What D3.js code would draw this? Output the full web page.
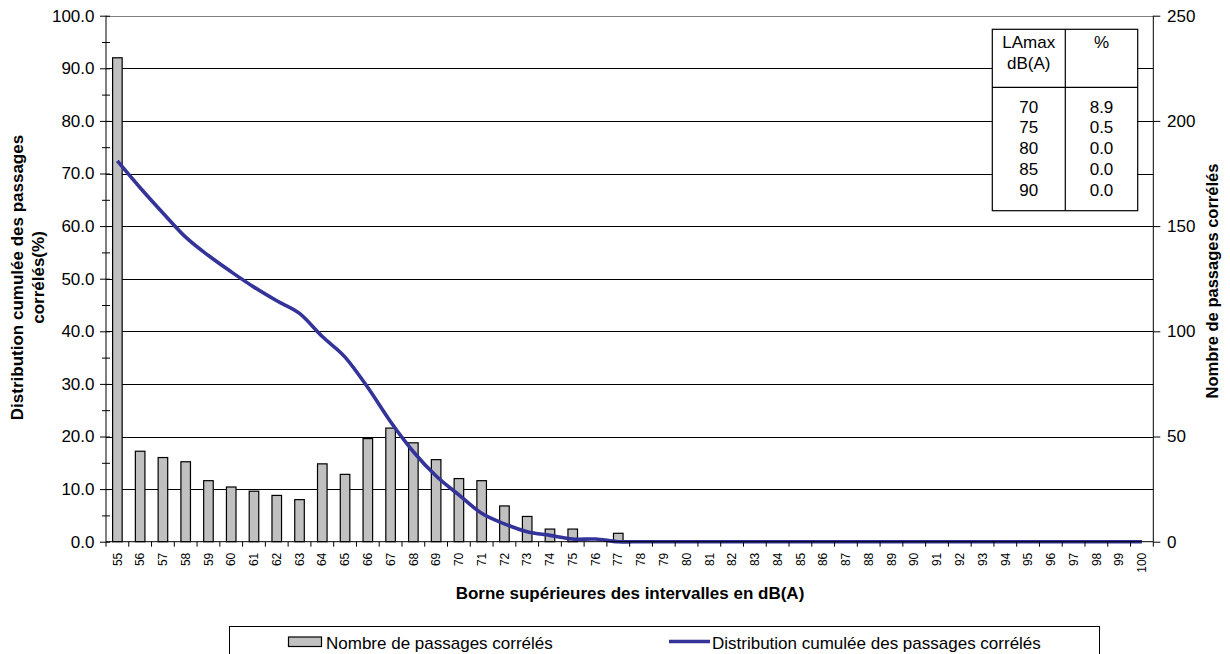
<!DOCTYPE html>
<html>
<head>
<meta charset="utf-8">
<script src="https://cdn.jsdelivr.net/npm/d3@7"></script>
<style>
  html, body { margin: 0; padding: 0; background: #fff; }
  svg { display: block; font-family: Arial, "Liberation Sans", sans-serif; }
</style>
</head>
<body>
<svg id="chart" width="1230" height="654"></svg>
<script>
// ---------- data ----------
const categories = ["55","56","57","58","59","60","61","62","63","64","65","66","67","68","69","70","71","72","73","74","75","76","77","78","79","80","81","82","83","84","85","86","87","88","89","90","91","92","93","94","95","96","97","98","99","100"];
const counts = [230,43,40,38,29,26,24,22,20,37,32,49,54,47,39,30,29,17,12,6,6,0,4,0,0,0,0,0,0,0,0,0,0,0,0,0,0,0,0,0,0,0,0,0,0,0];
const cumulPct = [72.4,67.3,62.5,57.9,54.4,51.3,48.4,45.8,43.4,39.0,35.1,29.3,22.8,17.1,12.5,8.9,5.4,3.4,1.9,1.2,0.5,0.5,0,0,0,0,0,0,0,0,0,0,0,0,0,0,0,0,0,0,0,0,0,0,0,0];
const leftTicks = [0,10,20,30,40,50,60,70,80,90,100];
const leftMinorTicks = [5,15,25,35,45,55,65,75,85,95];
const rightTicks = [0,50,100,150,200,250];
const tableHeader = [["LAmax","dB(A)"],["%"]];
const tableLevels = ["70","75","80","85","90"];
const tablePct = ["8.9","0.5","0.0","0.0","0.0"];
const seriesNames = ["Nombre de passages corrélés","Distribution cumulée des passages corrélés"];
const leftTitle = ["Distribution cumulée des passages","corrélés(%)"];
const rightTitle = "Nombre de passages corrélés";
const xTitle = "Borne supérieures des intervalles en dB(A)";

// ---------- layout ----------
const svg = d3.select("#chart");
const L = 106, R = 1153.3, T = 15.7, B = 541.7;
const FONT = 17;

const x = d3.scaleBand().domain(categories).range([L, R]).padding(0);
const yL = d3.scaleLinear().domain([0, 100]).range([B, T]);
const yR = d3.scaleLinear().domain([0, 250]).range([B, T]);

// gridlines
svg.append("g").selectAll("line")
  .data(leftTicks.filter(d => d > 0))
  .join("line")
  .attr("x1", L).attr("x2", R)
  .attr("y1", d => Math.round(yL(d)) + 0.5).attr("y2", d => Math.round(yL(d)) + 0.5)
  .attr("stroke", d => d === 100 ? "#808080" : "#000")
  .attr("stroke-width", 1);

// bars
const barW = x.bandwidth() * 0.42;
svg.append("g").selectAll("rect")
  .data(counts.map((v, i) => ({ c: categories[i], v })))
  .join("rect")
  .filter(d => d.v > 0)
  .attr("x", d => x(d.c) + (x.bandwidth() - barW) / 2)
  .attr("y", d => yR(d.v))
  .attr("width", barW)
  .attr("height", d => B - yR(d.v))
  .attr("fill", "#C0C0C0")
  .attr("stroke", "#000")
  .attr("stroke-width", 1.2);

// line
const line = d3.line()
  .x((d, i) => x(categories[i]) + x.bandwidth() / 2)
  .y(d => yL(d))
  .curve(d3.curveCardinal.tension(0));
svg.append("path")
  .datum(cumulPct)
  .attr("d", line)
  .attr("fill", "none")
  .attr("stroke", "#333399")
  .attr("stroke-width", 3.6)
  .attr("stroke-linejoin", "round");

// left axis
const gL = svg.append("g").attr("transform", `translate(${L},0)`)
  .call(d3.axisLeft(yL).tickValues(leftTicks).tickFormat(d3.format(".1f")).tickSize(6).tickPadding(5.5));
gL.selectAll(".tick line").attr("x1", 4);
gL.select(".domain").remove();
gL.selectAll("text").attr("font-size", FONT).attr("font-family", "Arial, 'Liberation Sans', sans-serif").attr("fill", "#000");
const gLm = svg.append("g").attr("transform", `translate(${L},0)`)
  .call(d3.axisLeft(yL).tickValues(leftMinorTicks).tickFormat("").tickSize(4));
gLm.selectAll(".tick line").attr("x1", 4);
gLm.select(".domain").remove();
svg.append("line").attr("x1", L).attr("x2", L).attr("y1", T).attr("y2", B).attr("stroke", "#000");

// right axis
const gR = svg.append("g").attr("transform", `translate(${R},0)`)
  .call(d3.axisRight(yR).tickValues(rightTicks).tickSize(7).tickPadding(6.7));
gR.select(".domain").remove();
gR.selectAll("text").attr("font-size", FONT).attr("font-family", "Arial, 'Liberation Sans', sans-serif").attr("fill", "#000");
svg.append("line").attr("x1", R).attr("x2", R).attr("y1", T).attr("y2", B).attr("stroke", "#000");

// x axis
const gX = svg.append("g").attr("transform", `translate(0,${B})`)
  .call(d3.axisBottom(x).tickSize(0));
gX.select(".domain").remove();
gX.selectAll("text")
  .attr("transform", "rotate(-90)")
  .attr("x", -11).attr("y", 0).attr("dy", "0.35em")
  .style("text-anchor", "end")
  .attr("font-size", 12).attr("font-family", "Arial, 'Liberation Sans', sans-serif").attr("fill", "#000");
const boundaries = categories.map(c => x(c)).concat([x(categories[categories.length - 1]) + x.bandwidth()]);
svg.append("g").selectAll("line").data(boundaries).join("line")
  .attr("x1", d => d).attr("x2", d => d)
  .attr("y1", B).attr("y2", B + 5)
  .attr("stroke", "#000");
svg.append("line").attr("x1", L).attr("x2", R).attr("y1", B).attr("y2", B).attr("stroke", "#000");

// axis titles
svg.append("text")
  .attr("transform", `translate(23,277.5) rotate(-90)`)
  .attr("text-anchor", "middle").attr("font-weight", "bold").attr("font-size", FONT)
  .text(leftTitle[0]);
svg.append("text")
  .attr("transform", `translate(44,277.5) rotate(-90)`)
  .attr("text-anchor", "middle").attr("font-weight", "bold").attr("font-size", FONT)
  .text(leftTitle[1]);
svg.append("text")
  .attr("transform", `translate(1218,281) rotate(-90)`)
  .attr("text-anchor", "middle").attr("font-weight", "bold").attr("font-size", 16.5)
  .text(rightTitle);
svg.append("text")
  .attr("x", 630).attr("y", 599)
  .attr("text-anchor", "middle").attr("font-weight", "bold").attr("font-size", FONT)
  .text(xTitle);

// table
const tx0 = 992.3, tx1 = 1065.3, tx2 = 1137.7, ty0 = 29.3, ty1 = 87.3, ty2 = 210.7;
const tbl = svg.append("g");
tbl.append("rect").attr("x", tx0).attr("y", ty0).attr("width", tx2 - tx0).attr("height", ty2 - ty0)
  .attr("fill", "#fff").attr("stroke", "#000").attr("stroke-width", 1.2);
tbl.append("line").attr("x1", tx1).attr("x2", tx1).attr("y1", ty0).attr("y2", ty2).attr("stroke", "#000").attr("stroke-width", 1.2);
tbl.append("line").attr("x1", tx0).attr("x2", tx2).attr("y1", ty1).attr("y2", ty1).attr("stroke", "#000").attr("stroke-width", 1.2);
const c1 = (tx0 + tx1) / 2, c2 = (tx1 + tx2) / 2;
tableHeader[0].forEach((t, i) => {
  tbl.append("text").attr("x", c1).attr("y", 48 + i * 21).attr("text-anchor", "middle").attr("font-size", FONT).text(t);
});
tableHeader[1].forEach((t, i) => {
  tbl.append("text").attr("x", c2).attr("y", 48 + i * 21).attr("text-anchor", "middle").attr("font-size", FONT).text(t);
});
tableLevels.forEach((t, i) => {
  tbl.append("text").attr("x", c1).attr("y", 112.5 + i * 20.8).attr("text-anchor", "middle").attr("font-size", FONT).text(t);
  tbl.append("text").attr("x", c2).attr("y", 112.5 + i * 20.8).attr("text-anchor", "middle").attr("font-size", FONT).text(tablePct[i]);
});

// legend
const lg = svg.append("g");
lg.append("rect").attr("x", 229.5).attr("y", 626.5).attr("width", 870).attr("height", 40)
  .attr("fill", "#fff").attr("stroke", "#000").attr("stroke-width", 1);
lg.append("rect").attr("x", 288.5).attr("y", 637).attr("width", 33).attr("height", 9.5)
  .attr("fill", "#C0C0C0").attr("stroke", "#000").attr("stroke-width", 1.2);
lg.append("text").attr("x", 326).attr("y", 648.5).attr("font-size", FONT).text(seriesNames[0]);
lg.append("line").attr("x1", 669).attr("x2", 710).attr("y1", 641.5).attr("y2", 641.5)
  .attr("stroke", "#333399").attr("stroke-width", 3.6);
lg.append("text").attr("x", 712).attr("y", 648.5).attr("font-size", FONT).text(seriesNames[1]);
</script>
</body>
</html>
